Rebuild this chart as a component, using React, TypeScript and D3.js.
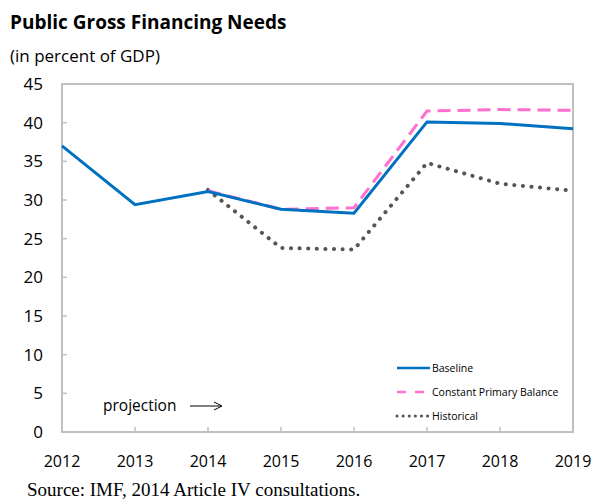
import React from "react";
import * as d3 from "d3";

const years = [2012, 2013, 2014, 2015, 2016, 2017, 2018, 2019];
const baseline = [37.0, 29.4, 31.1, 28.8, 28.3, 40.1, 39.9, 39.2];
const cpbYears = [2014, 2015, 2016, 2017, 2018, 2019];
const cpb = [31.2, 28.8, 29.0, 41.5, 41.7, 41.6];
const histYears = [2014, 2015, 2016, 2017, 2018, 2019];
const historical = [31.3, 23.8, 23.6, 34.8, 32.1, 31.2];
const yTicks = [0, 5, 10, 15, 20, 25, 30, 35, 40, 45];

const W = 591, H = 501;
const L = 62, R = 573, T = 84, B = 432;
const FONT = "'Open Sans', 'Noto Sans', sans-serif";

export default function App() {
  const x = d3.scaleLinear().domain([2012, 2019]).range([L, R]);
  const y = d3.scaleLinear().domain([0, 45]).range([B, T]);
  const line = d3.line<[number, number]>().x(d => x(d[0])).y(d => y(d[1]));
  const bPath = line(years.map((yr, i) => [yr, baseline[i]]))!;
  const cPath = line(cpbYears.map((yr, i) => [yr, cpb[i]]))!;
  const hPath = line(histYears.map((yr, i) => [yr, historical[i]]))!;
  const grey = "#c0c0c0";
  return (
    <svg width={W} height={H} style={{ position: "absolute", left: 0, top: 0 }}>
      <rect width={W} height={H} fill="#fff" />
      <text x={10} y={29} fontFamily={FONT} fontWeight="bold" fontSize={19} fill="#000">Public Gross Financing Needs</text>
      <text x={10} y={62} fontFamily={FONT} fontSize={17} fill="#000">(in percent of GDP)</text>
      <rect x={L} y={T} width={R - L} height={B - T} fill="none" stroke={grey} strokeWidth={2} />
      {yTicks.map(t => (
        <g key={t}>
          <line x1={L} x2={L + 5} y1={y(t)} y2={y(t)} stroke={grey} strokeWidth={1.5} />
          <text x={43} y={y(t) + 6} textAnchor="end" fontFamily={FONT} fontSize={17} fill="#000">{t}</text>
        </g>
      ))}
      {years.map(yr => (
        <g key={yr}>
          {yr > 2012 && yr < 2019 && <line x1={x(yr)} x2={x(yr)} y1={B} y2={B - 5} stroke={grey} strokeWidth={1.5} />}
          <text x={x(yr)} y={467} textAnchor="middle" fontFamily={FONT} fontSize={16} fill="#000">{yr}</text>
        </g>
      ))}
      <path d={hPath} fill="none" stroke="#555" strokeWidth={4} strokeDasharray="0.1 8.5" strokeLinecap="round" />
      <path d={cPath} fill="none" stroke="#ff6fd0" strokeWidth={3} strokeDasharray="13 7" />
      <path d={bPath} fill="none" stroke="#0070c0" strokeWidth={3} />
      <text x={103} y={411} fontFamily={FONT} fontSize={15.5} fill="#000">projection</text>
      <line x1={190} x2={221} y1={406} y2={406} stroke="#000" strokeWidth={1} />
      <path d="M214,402 L222,406 L214,410" fill="none" stroke="#000" strokeWidth={1} />
      <line x1={397} x2={430} y1={368} y2={368} stroke="#0070c0" strokeWidth={2.5} />
      <text x={432} y={372} fontFamily={FONT} fontSize={10.5} fill="#000">Baseline</text>
      <line x1={397} x2={430} y1={392} y2={392} stroke="#ff6fd0" strokeWidth={2.5} strokeDasharray="9 9" />
      <text x={432} y={396} fontFamily={FONT} fontSize={10.5} fill="#000">Constant Primary Balance</text>
      <line x1={397} x2={429} y1={416} y2={416} stroke="#555" strokeWidth={3} strokeDasharray="0.1 6" strokeLinecap="round" />
      <text x={432} y={420} fontFamily={FONT} fontSize={10.5} fill="#000">Historical</text>
      <text x={27} y={496} fontFamily="'Liberation Serif', serif" fontSize={19} fill="#000">Source: IMF, 2014 Article IV consultations.</text>
    </svg>
  );
}
